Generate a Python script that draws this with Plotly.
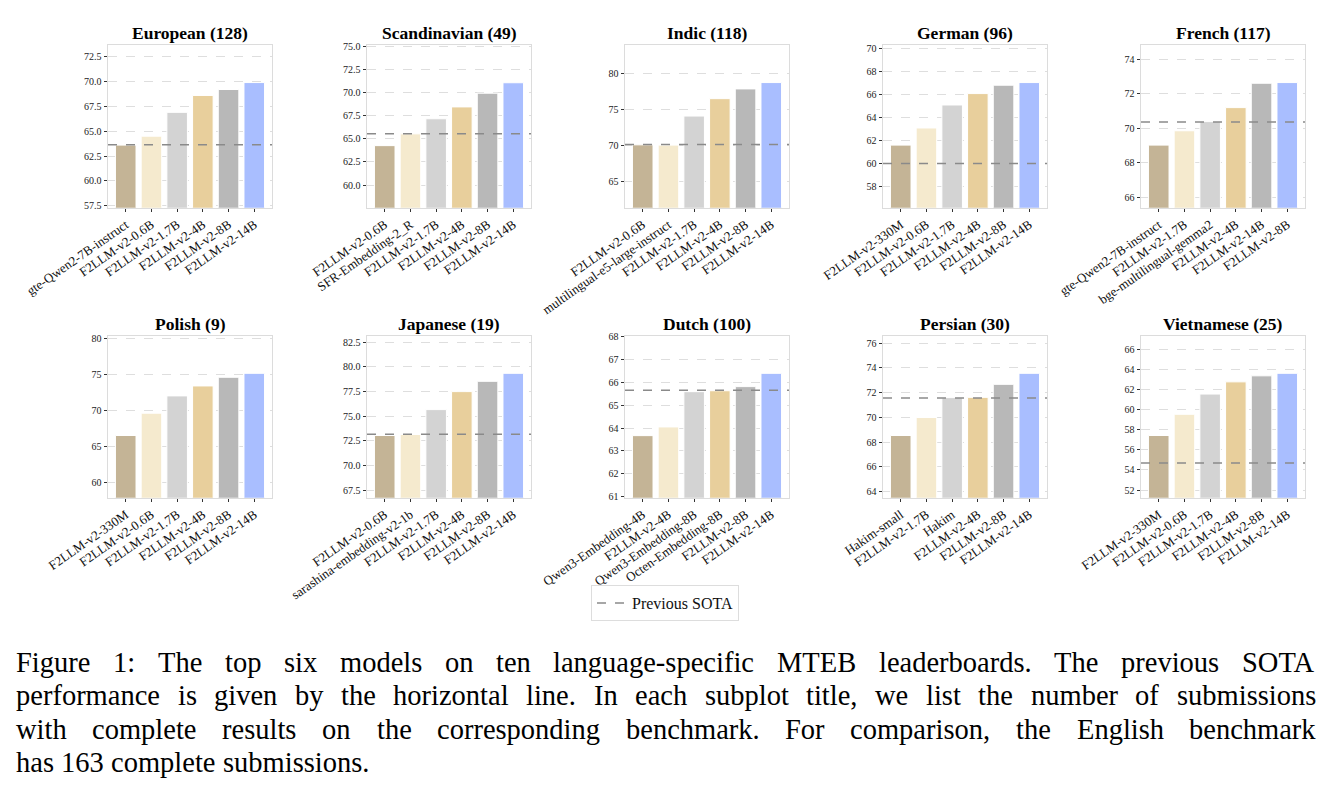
import plotly.graph_objects as go

# ---------------- data ----------------
european_models = ["gte-Qwen2-7B-instruct", "F2LLM-v2-0.6B", "F2LLM-v2-1.7B", "F2LLM-v2-4B", "F2LLM-v2-8B", "F2LLM-v2-14B"]
european_scores = [63.6, 64.5, 66.9, 68.6, 69.2, 69.9]
european_sota = 63.63
european_ticks = [57.5, 60.0, 62.5, 65.0, 67.5, 70.0, 72.5]

scandinavian_models = ["F2LLM-v2-0.6B", "SFR-Embedding-2_R", "F2LLM-v2-1.7B", "F2LLM-v2-4B", "F2LLM-v2-8B", "F2LLM-v2-14B"]
scandinavian_scores = [64.25, 65.52, 67.15, 68.43, 69.91, 71.04]
scandinavian_sota = 65.52
scandinavian_ticks = [60.0, 62.5, 65.0, 67.5, 70.0, 72.5, 75.0]

indic_models = ["F2LLM-v2-0.6B", "multilingual-e5-large-instruct", "F2LLM-v2-1.7B", "F2LLM-v2-4B", "F2LLM-v2-8B", "F2LLM-v2-14B"]
indic_scores = [70.09, 70.05, 74.11, 76.54, 77.9, 78.79]
indic_sota = 70.14
indic_ticks = [65, 70, 75, 80]

german_models = ["F2LLM-v2-330M", "F2LLM-v2-0.6B", "F2LLM-v2-1.7B", "F2LLM-v2-4B", "F2LLM-v2-8B", "F2LLM-v2-14B"]
german_scores = [61.57, 63.06, 65.06, 66.05, 66.78, 67.01]
german_sota = 59.98
german_ticks = [58, 60, 62, 64, 66, 68, 70]

french_models = ["gte-Qwen2-7B-instruct", "F2LLM-v2-1.7B", "bge-multilingual-gemma2", "F2LLM-v2-4B", "F2LLM-v2-14B", "F2LLM-v2-8B"]
french_scores = [69.02, 69.85, 70.38, 71.19, 72.6, 72.64]
french_sota = 70.36
french_ticks = [66, 68, 70, 72, 74]

polish_models = ["F2LLM-v2-330M", "F2LLM-v2-0.6B", "F2LLM-v2-1.7B", "F2LLM-v2-4B", "F2LLM-v2-8B", "F2LLM-v2-14B"]
polish_scores = [66.54, 69.63, 72.03, 73.41, 74.61, 75.16]
polish_sota = None
polish_ticks = [60, 65, 70, 75, 80]

japanese_models = ["F2LLM-v2-0.6B", "sarashina-embedding-v2-1b", "F2LLM-v2-1.7B", "F2LLM-v2-4B", "F2LLM-v2-8B", "F2LLM-v2-14B"]
japanese_scores = [73.05, 73.15, 75.67, 77.49, 78.53, 79.34]
japanese_sota = 73.18
japanese_ticks = [67.5, 70.0, 72.5, 75.0, 77.5, 80.0, 82.5]

dutch_models = ["Qwen3-Embedding-4B", "F2LLM-v2-4B", "Qwen3-Embedding-8B", "Octen-Embedding-8B", "F2LLM-v2-8B", "F2LLM-v2-14B"]
dutch_scores = [63.67, 64.05, 65.59, 65.63, 65.81, 66.39]
dutch_sota = 65.65
dutch_ticks = [61, 62, 63, 64, 65, 66, 67, 68]

persian_models = ["Hakim-small", "F2LLM-v2-1.7B", "Hakim", "F2LLM-v2-4B", "F2LLM-v2-8B", "F2LLM-v2-14B"]
persian_scores = [68.54, 69.99, 71.6, 71.62, 72.67, 73.56]
persian_sota = 71.57
persian_ticks = [64, 66, 68, 70, 72, 74, 76]

vietnamese_models = ["F2LLM-v2-330M", "F2LLM-v2-0.6B", "F2LLM-v2-1.7B", "F2LLM-v2-4B", "F2LLM-v2-8B", "F2LLM-v2-14B"]
vietnamese_scores = [57.42, 59.53, 61.54, 62.75, 63.35, 63.6]
vietnamese_sota = 54.7
vietnamese_ticks = [52, 54, 56, 58, 60, 62, 64, 66]

titles = ["European (128)", "Scandinavian (49)", "Indic (118)", "German (96)", "French (117)",
          "Polish (9)", "Japanese (19)", "Dutch (100)", "Persian (30)", "Vietnamese (25)"]

legend_label = "Previous SOTA"

caption_lines = [
    "Figure 1: The top six models on ten language-specific MTEB leaderboards.  The previous SOTA",
    "performance is given by the horizontal line. In each subplot title, we list the number of submissions",
    "with complete results on the corresponding benchmark. For comparison, the English benchmark",
    "has 163 complete submissions.",
]

# ---------------- styling ----------------
BAR_COLORS = ["#C4B496", "#F5EACE", "#D3D3D3", "#E8CF9C", "#B8B8B8", "#A9BEFF"]
SERIF = "Liberation Serif, Times New Roman, serif"
W, H = 1330, 802

panels = [
    (european_models, european_scores, european_sota, european_ticks, 1),
    (scandinavian_models, scandinavian_scores, scandinavian_sota, scandinavian_ticks, 1),
    (indic_models, indic_scores, indic_sota, indic_ticks, 0),
    (german_models, german_scores, german_sota, german_ticks, 0),
    (french_models, french_scores, french_sota, french_ticks, 0),
    (polish_models, polish_scores, polish_sota, polish_ticks, 0),
    (japanese_models, japanese_scores, japanese_sota, japanese_ticks, 1),
    (dutch_models, dutch_scores, dutch_sota, dutch_ticks, 0),
    (persian_models, persian_scores, persian_sota, persian_ticks, 0),
    (vietnamese_models, vietnamese_scores, vietnamese_sota, vietnamese_ticks, 0),
]

X_LEFT = [108, 367, 625, 883, 1141]
AX_W = 164
ROW_TOP = [45, 336]
ROW_BOT = [207.7, 497.7]

fig = go.Figure()
layout = dict(
    template="none",
    width=W, height=H,
    margin=dict(l=0, r=0, t=0, b=0, autoexpand=False),
    paper_bgcolor="white", plot_bgcolor="white",
    bargap=0.2,
    showlegend=True,
    font=dict(family=SERIF, color="#222"),
)
annotations = []
shapes = []

for i, (models, scores, sota, ticks, decimals) in enumerate(panels):
    r, c = divmod(i, 5)
    n = i + 1
    xa = "x" if n == 1 else f"x{n}"
    ya = "y" if n == 1 else f"y{n}"
    fig.add_trace(go.Bar(
        x=models, y=scores, xaxis=xa, yaxis=ya,
        marker=dict(color=BAR_COLORS, line=dict(color="white", width=1)),
        showlegend=False, hoverinfo="x+y",
    ))
    # axis ranges following the plot rule: min - span, max + 0.6*span
    lo, hi = min(scores), max(scores)
    span = hi - lo
    y0, y1 = lo - span, hi + 0.6 * span
    if n == 2:
        y0 = max(y0, 57.55)
    if n == 8:
        y0, y1 = 60.96, 68.02
    xd = [X_LEFT[c] / W, (X_LEFT[c] + AX_W) / W]
    yd = [1 - ROW_BOT[r] / H, 1 - ROW_TOP[r] / H]
    key = "" if n == 1 else str(n)
    layout["xaxis" + key] = dict(
        domain=xd, anchor=ya, type="category", range=[-0.69, len(models) - 0.31],
        tickangle=-35, tickfont=dict(size=13, family=SERIF, color="#111"),
        showline=True, linecolor="#dcdcdc", linewidth=1, mirror=True,
        ticks="outside", ticklen=3.5, tickwidth=0.8, tickcolor="#333",
        showgrid=False, zeroline=False, fixedrange=True, automargin=False,
    )
    fmt = "{:.1f}" if decimals else "{:d}"
    layout["yaxis" + key] = dict(
        domain=yd, anchor=xa, range=[y0, y1],
        tickmode="array", tickvals=ticks, ticktext=[fmt.format(t) for t in ticks],
        tickfont=dict(size=10, family=SERIF, color="#222"),
        showline=True, linecolor="#dcdcdc", linewidth=1, mirror=True,
        ticks="outside", ticklen=3.5, tickwidth=0.8, tickcolor="#333",
        showgrid=True, gridcolor="#dedede", gridwidth=0.8, griddash="dash",
        zeroline=False, fixedrange=True, automargin=False,
    )
    if sota is not None:
        shapes.append(dict(
            type="line", xref=f"{xa} domain", yref=ya, x0=0, x1=1, y0=sota, y1=sota,
            line=dict(color="#8a8a8a", width=1.5, dash="dash"), layer="above",
        ))
    annotations.append(dict(
        text=f"<b>{titles[i]}</b>", xref="paper", yref="paper",
        x=(X_LEFT[c] + AX_W / 2) / W, y=yd[1], xanchor="center", yanchor="bottom",
        yshift=0, showarrow=False, font=dict(size=17.5, family=SERIF, color="#000"),
    ))

# legend trace
fig.add_trace(go.Scatter(
    x=[None], y=[None], mode="lines", name=legend_label,
    line=dict(color="#8a8a8a", width=1.5, dash="dash"), showlegend=True,
))
layout["legend"] = dict(
    orientation="h", x=0.5, xanchor="center", y=1 - 585 / H, yanchor="top",
    bordercolor="#dddddd", borderwidth=1, bgcolor="white",
    font=dict(size=16, family=SERIF, color="#111"),
)

# ---------------- caption (justified, Times metrics) ----------------
TIMES = {' ': 250, 'a': 444, 'b': 500, 'c': 444, 'd': 500, 'e': 444, 'f': 333, 'g': 500, 'h': 500,
         'i': 278, 'j': 278, 'k': 500, 'l': 278, 'm': 778, 'n': 500, 'o': 500, 'p': 500, 'q': 500,
         'r': 333, 's': 389, 't': 278, 'u': 500, 'v': 500, 'w': 722, 'x': 500, 'y': 500, 'z': 444,
         'A': 722, 'B': 667, 'C': 667, 'D': 722, 'E': 611, 'F': 556, 'G': 722, 'H': 722, 'I': 333,
         'J': 389, 'K': 722, 'L': 611, 'M': 889, 'N': 722, 'O': 722, 'P': 556, 'Q': 722, 'R': 667,
         'S': 556, 'T': 611, 'U': 722, 'V': 722, 'W': 944, 'X': 722, 'Y': 722, 'Z': 611,
         '.': 250, ',': 250, ':': 278, '-': 333, '(': 333, ')': 333}
CAP_SIZE = 28.5
CAP_LEFT, CAP_RIGHT = 15, 1315
CAP_CENTERS = [662, 695.5, 729, 762.5]


def tw(s):
    return sum(TIMES.get(ch, 500) for ch in s) / 1000 * CAP_SIZE


for li, line in enumerate(caption_lines):
    words = line.split()
    widths = [tw(w) for w in words]
    last = li == len(caption_lines) - 1
    if last or len(words) < 2:
        gap = tw(" ")
    else:
        gap = (CAP_RIGHT - CAP_LEFT - sum(widths)) / (len(words) - 1)
    xpos = CAP_LEFT
    for w, wd in zip(words, widths):
        annotations.append(dict(
            text=w, xref="paper", yref="paper", x=xpos / W, y=1 - CAP_CENTERS[li] / H,
            xanchor="left", yanchor="middle", showarrow=False, borderpad=0,
            font=dict(size=CAP_SIZE, family=SERIF, color="#000"),
        ))
        xpos += wd + gap

layout["annotations"] = annotations
layout["shapes"] = shapes
fig.update_layout(**layout)

fig.write_html("out.html", config={"displayModeBar": False})
